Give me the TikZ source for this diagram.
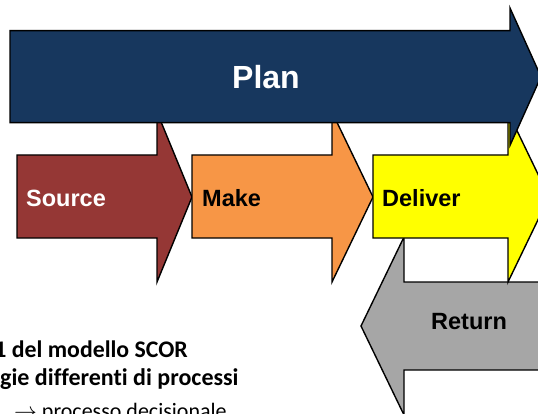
\documentclass[tikz,border=0pt]{standalone}
\usepackage{fontspec}
\setmainfont{Liberation Sans}
\newfontfamily\slidefont[Ligatures=NoCommon]{Carlito}
\usepackage{xcolor}
\definecolor{plannavy}{HTML}{17375E}
\definecolor{sourcered}{HTML}{953735}
\definecolor{makeorange}{HTML}{F79646}
\definecolor{deliveryellow}{HTML}{FFFF00}
\definecolor{returngray}{HTML}{A6A6A6}

\begin{document}
\begin{tikzpicture}[x=1pt, y=-1pt,
    procarrow/.style={draw=black, line width=1.4pt, line join=miter},
    proclabel/.style={inner sep=0pt, font=\bfseries\fontsize{23.5}{24}\selectfont},
    noteline/.style={inner sep=0pt, font=\slidefont\fontsize{22}{26}\selectfont},
    notebold/.style={inner sep=0pt, font=\slidefont\bfseries\fontsize{23.8}{26}\selectfont}]
  \useasboundingbox (0,0) rectangle (538,414);
  \clip (0,0) rectangle (538,414);

  % return flows back, under deliver
  \filldraw[procarrow, fill=returngray] (600,282) -- (404,282) -- (404,237) -- (361,326) -- (404,415) -- (404,370) -- (600,370) -- cycle;
  % execution chain
  \filldraw[procarrow, fill=sourcered] (17,155) -- (157,155) -- (157,112) -- (192,197) -- (157,282) -- (157,238) -- (17,238) -- cycle;
  \filldraw[procarrow, fill=makeorange] (192,155) -- (332,155) -- (332,112) -- (373,197) -- (332,282) -- (332,238) -- (192,238) -- cycle;
  \filldraw[procarrow, fill=deliveryellow] (373,155) -- (508,155) -- (508,112) -- (549,197) -- (508,282) -- (508,238) -- (373,238) -- cycle;
  % plan spans everything, on top
  \filldraw[procarrow, fill=plannavy] (10,30.7) -- (510,30.7) -- (510,8) -- (541,76.7) -- (510,145.4) -- (510,122.7) -- (10,122.7) -- cycle;

  \node[proclabel, text=white, font=\bfseries\fontsize{32}{34}\selectfont] (plan) at (266,77) {Plan};
  \node[proclabel, text=white, anchor=west] (source) at (26,198) {Source};
  \node[proclabel, anchor=west] (make) at (202,198) {Make};
  \node[proclabel, anchor=west] (deliver) at (382,198) {Deliver};
  \node[proclabel, anchor=west] (return) at (431,322) {Return};

  % slide text below the chart
  \node[notebold, anchor=base east] (noteA) at (188,357) {1 del modello SCOR};
  \node[notebold, font=\slidefont\bfseries\fontsize{24}{26}\selectfont, anchor=base west] (noteB) at (0,385) {gie differenti di processi};
  \node[noteline, anchor=base west] (noteC) at (14,418) {\scalebox{1.1}{$\rightarrow$} processo decisionale};
\end{tikzpicture}
\end{document}
